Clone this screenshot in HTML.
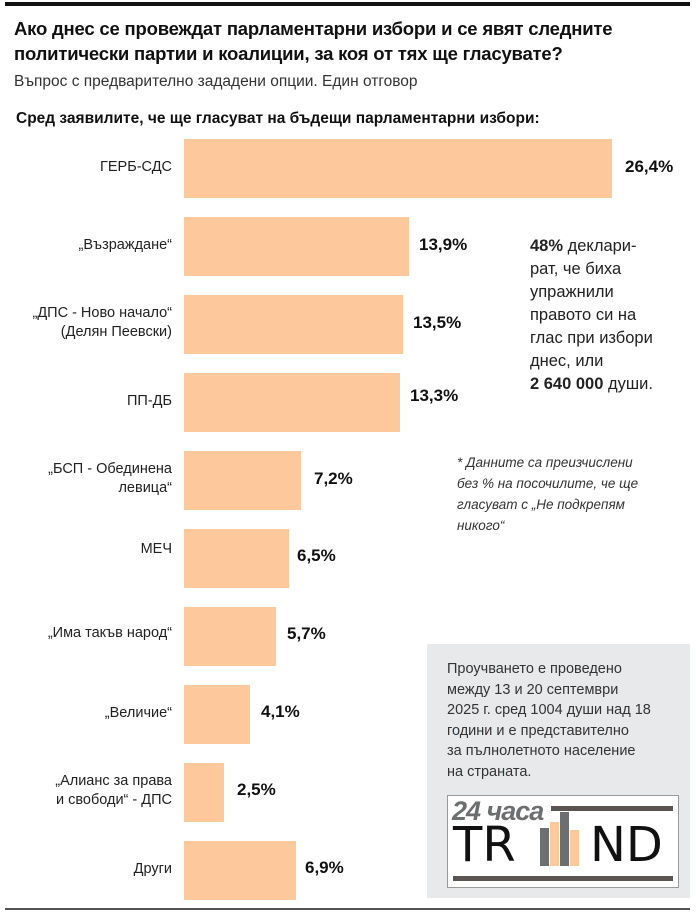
<!DOCTYPE html>
<html><head><meta charset="utf-8"><style>
body{margin:0;width:696px;height:916px;background:#fff;position:relative;font-family:"Liberation Sans","DejaVu Sans",sans-serif;color:#111;overflow:hidden}
.a{position:absolute;white-space:nowrap}
.bar{position:absolute;left:184px;height:59px;background:#fcc89c}
.lab{position:absolute;right:524px;text-align:right;font-size:14.5px;line-height:19px;color:#222;white-space:nowrap}
.val{position:absolute;font-size:17px;font-weight:bold}
.tr{position:absolute;font-size:48px;line-height:54px;color:#111;font-family:"DejaVu Sans",sans-serif;font-weight:normal;white-space:nowrap}
</style></head><body>
<div class="a" style="left:5px;top:2px;width:685px;height:4px;background:#111"></div>
<div class="a" style="left:14px;top:16px;font-size:18.5px;font-weight:bold;line-height:25px;width:680px;letter-spacing:-0.2px">Ако днес се провеждат парламентарни избори и се явят следните<br>политически партии и коалиции, за коя от тях ще гласувате?</div>
<div class="a" style="left:14px;top:73px;font-size:15.5px;color:#333">Въпрос с предварително зададени опции. Един отговор</div>
<div class="a" style="left:16px;top:110px;font-size:15.5px;font-weight:bold">Сред заявилите, че ще гласуват на бъдещи парламентарни избори:</div>

<div class="bar" style="top:139px;width:428px"></div><div class="lab" style="top:158px">ГЕРБ-СДС</div><div class="val" style="left:625px;top:157px">26,4%</div>
<div class="bar" style="top:217px;width:225px"></div><div class="lab" style="top:236px">„Възраждане“</div><div class="val" style="left:419px;top:235px">13,9%</div>
<div class="bar" style="top:295px;width:219px"></div><div class="lab" style="top:304px">„ДПС - Ново начало“<br>(Делян Пеевски)</div><div class="val" style="left:413px;top:313px">13,5%</div>
<div class="bar" style="top:373px;width:216px"></div><div class="lab" style="top:392px">ПП-ДБ</div><div class="val" style="left:410px;top:386px">13,3%</div>
<div class="bar" style="top:451px;width:117px"></div><div class="lab" style="top:460px">„БСП - Обединена<br>левица“</div><div class="val" style="left:314px;top:469px">7,2%</div>
<div class="bar" style="top:529px;width:105px"></div><div class="lab" style="top:540px">МЕЧ</div><div class="val" style="left:297px;top:546px">6,5%</div>
<div class="bar" style="top:607px;width:92px"></div><div class="lab" style="top:624px">„Има такъв народ“</div><div class="val" style="left:287px;top:624px">5,7%</div>
<div class="bar" style="top:685px;width:66px"></div><div class="lab" style="top:704px">„Величие“</div><div class="val" style="left:261px;top:702px">4,1%</div>
<div class="bar" style="top:763px;width:40px"></div><div class="lab" style="top:772px">„Алианс за права<br>и свободи“ - ДПС</div><div class="val" style="left:237px;top:780px">2,5%</div>
<div class="bar" style="top:841px;width:112px"></div><div class="lab" style="top:860px">Други</div><div class="val" style="left:305px;top:858px">6,9%</div>

<div class="a" style="left:530px;top:235px;font-size:16.5px;line-height:23px;width:160px;color:#222"><b>48%</b> деклари-<br>рат, че биха<br>упражнили<br>правото си на<br>глас при избори<br>днес, или<br><b>2 640 000</b> души.</div>
<div class="a" style="left:457px;top:452px;font-size:13.5px;line-height:21px;font-style:italic;color:#333;width:230px">* Данните са преизчислени<br>без % на посочилите, че ще<br>гласуват с „Не подкрепям<br>никого“</div>

<div class="a" style="left:427px;top:644px;width:263px;height:254px;background:#e8e9eb"></div>
<div class="a" style="left:447px;top:659px;font-size:14.5px;line-height:20.5px;color:#333;width:240px">Проучването е проведено<br>между 13 и 20 септември<br>2025 г. сред 1004 души над 18<br>години и е представително<br>за пълнолетното население<br>на страната.</div>
<div class="a" style="left:447px;top:795px;width:230px;height:91px;background:#fff;border:1px solid #999"></div>
<div class="a" style="left:452px;top:796px;font-size:27px;font-weight:bold;font-style:italic;color:#6d6e70;letter-spacing:-1px">24 часа</div>
<div class="a" style="left:551px;top:806px;width:122px;height:5px;background:#5a5550"></div>
<div class="a" style="left:453px;top:876px;width:220px;height:5px;background:#5a5550"></div>
<div class="a" style="left:540px;top:828px;width:9px;height:38px;background:#6d6e70"></div>
<div class="a" style="left:550px;top:822px;width:9px;height:44px;background:#fcc89c"></div>
<div class="a" style="left:560px;top:812px;width:9px;height:54px;background:#6d6e70"></div>
<div class="a" style="left:570px;top:830px;width:9px;height:36px;background:#fcc89c"></div>
<div class="tr" style="left:453px;top:818px">TR</div>
<div class="tr" style="left:590px;top:818px">ND</div>
<div class="a" style="left:5px;top:908px;width:685px;height:2px;background:#555"></div>
</body></html>
